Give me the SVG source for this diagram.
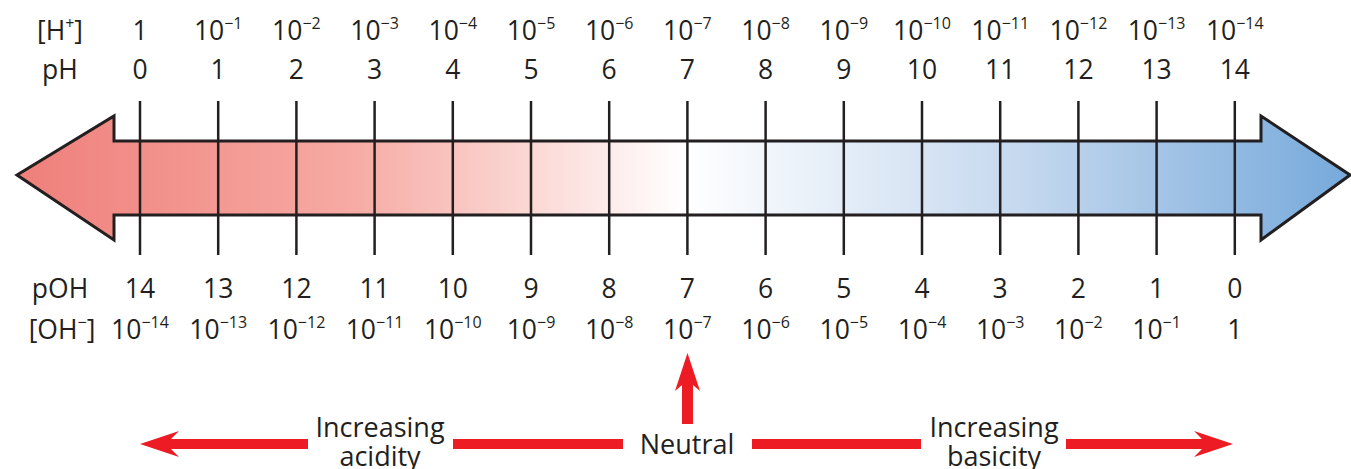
<svg xmlns="http://www.w3.org/2000/svg" width="1351" height="469" viewBox="0 0 1351 469">
<style>
text{font-family:"Open Sans","Noto Sans","Liberation Sans",sans-serif;fill:#231f20;text-anchor:middle}
.v{font-size:26.5px}
.s{font-size:16px}
.b{font-size:27px}
.tick{stroke:#231f20;stroke-width:2.5}
.red{fill:#ed1c24}
</style>
<defs>
<linearGradient id="g" gradientUnits="userSpaceOnUse" x1="17" y1="0" x2="1351" y2="0">
<stop offset="0" stop-color="#ef7f7b"/>
<stop offset="0.25" stop-color="#f6aaa3"/>
<stop offset="0.5015" stop-color="#ffffff"/>
<stop offset="0.75" stop-color="#c6d9ef"/>
<stop offset="1" stop-color="#76a9db"/>
</linearGradient>
</defs>
<g id="scale-arrow">
<polygon points="17,175 114,116 114,141 1261,141 1261,116 1350,175 1261,240 1261,215 114,215 114,240" fill="url(#g)" stroke="#231f20" stroke-width="3" stroke-linejoin="miter"/>
</g>
<g id="ticks">
<line class="tick" x1="140" y1="101" x2="140" y2="255"/>
<line class="tick" x1="218.2" y1="101" x2="218.2" y2="255"/>
<line class="tick" x1="296.4" y1="101" x2="296.4" y2="255"/>
<line class="tick" x1="374.6" y1="101" x2="374.6" y2="255"/>
<line class="tick" x1="452.8" y1="101" x2="452.8" y2="255"/>
<line class="tick" x1="531" y1="101" x2="531" y2="255"/>
<line class="tick" x1="609.2" y1="101" x2="609.2" y2="255"/>
<line class="tick" x1="687.4" y1="101" x2="687.4" y2="255"/>
<line class="tick" x1="765.6" y1="101" x2="765.6" y2="255"/>
<line class="tick" x1="843.8" y1="101" x2="843.8" y2="255"/>
<line class="tick" x1="922" y1="101" x2="922" y2="255"/>
<line class="tick" x1="1000.2" y1="101" x2="1000.2" y2="255"/>
<line class="tick" x1="1078.4" y1="101" x2="1078.4" y2="255"/>
<line class="tick" x1="1156.6" y1="101" x2="1156.6" y2="255"/>
<line class="tick" x1="1234.8" y1="101" x2="1234.8" y2="255"/>
</g>
<g id="row-labels">
<text class="v" x="60" y="40">[H<tspan class="s" dy="-11">+</tspan><tspan dy="11">]</tspan></text>
<text class="v" x="60" y="79">pH</text>
<text class="v" x="60" y="298">pOH</text>
<text class="v" x="62" y="339">[OH<tspan class="s" dy="-11">−</tspan><tspan dy="11">]</tspan></text>
</g>
<g id="h-row">
<text class="v" x="140" y="40">1</text>
<text class="v" x="218.2" y="40">10<tspan class="s" dy="-11">−1</tspan></text>
<text class="v" x="296.4" y="40">10<tspan class="s" dy="-11">−2</tspan></text>
<text class="v" x="374.6" y="40">10<tspan class="s" dy="-11">−3</tspan></text>
<text class="v" x="452.8" y="40">10<tspan class="s" dy="-11">−4</tspan></text>
<text class="v" x="531" y="40">10<tspan class="s" dy="-11">−5</tspan></text>
<text class="v" x="609.2" y="40">10<tspan class="s" dy="-11">−6</tspan></text>
<text class="v" x="687.4" y="40">10<tspan class="s" dy="-11">−7</tspan></text>
<text class="v" x="765.6" y="40">10<tspan class="s" dy="-11">−8</tspan></text>
<text class="v" x="843.8" y="40">10<tspan class="s" dy="-11">−9</tspan></text>
<text class="v" x="922" y="40">10<tspan class="s" dy="-11">−10</tspan></text>
<text class="v" x="1000.2" y="40">10<tspan class="s" dy="-11">−11</tspan></text>
<text class="v" x="1078.4" y="40">10<tspan class="s" dy="-11">−12</tspan></text>
<text class="v" x="1156.6" y="40">10<tspan class="s" dy="-11">−13</tspan></text>
<text class="v" x="1234.8" y="40">10<tspan class="s" dy="-11">−14</tspan></text>
</g>
<g id="ph-row">
<text class="v" x="140" y="79">0</text>
<text class="v" x="218.2" y="79">1</text>
<text class="v" x="296.4" y="79">2</text>
<text class="v" x="374.6" y="79">3</text>
<text class="v" x="452.8" y="79">4</text>
<text class="v" x="531" y="79">5</text>
<text class="v" x="609.2" y="79">6</text>
<text class="v" x="687.4" y="79">7</text>
<text class="v" x="765.6" y="79">8</text>
<text class="v" x="843.8" y="79">9</text>
<text class="v" x="922" y="79">10</text>
<text class="v" x="1000.2" y="79">11</text>
<text class="v" x="1078.4" y="79">12</text>
<text class="v" x="1156.6" y="79">13</text>
<text class="v" x="1234.8" y="79">14</text>
</g>
<g id="poh-row">
<text class="v" x="140" y="298">14</text>
<text class="v" x="218.2" y="298">13</text>
<text class="v" x="296.4" y="298">12</text>
<text class="v" x="374.6" y="298">11</text>
<text class="v" x="452.8" y="298">10</text>
<text class="v" x="531" y="298">9</text>
<text class="v" x="609.2" y="298">8</text>
<text class="v" x="687.4" y="298">7</text>
<text class="v" x="765.6" y="298">6</text>
<text class="v" x="843.8" y="298">5</text>
<text class="v" x="922" y="298">4</text>
<text class="v" x="1000.2" y="298">3</text>
<text class="v" x="1078.4" y="298">2</text>
<text class="v" x="1156.6" y="298">1</text>
<text class="v" x="1234.8" y="298">0</text>
</g>
<g id="oh-row">
<text class="v" x="140" y="339">10<tspan class="s" dy="-11">−14</tspan></text>
<text class="v" x="218.2" y="339">10<tspan class="s" dy="-11">−13</tspan></text>
<text class="v" x="296.4" y="339">10<tspan class="s" dy="-11">−12</tspan></text>
<text class="v" x="374.6" y="339">10<tspan class="s" dy="-11">−11</tspan></text>
<text class="v" x="452.8" y="339">10<tspan class="s" dy="-11">−10</tspan></text>
<text class="v" x="531" y="339">10<tspan class="s" dy="-11">−9</tspan></text>
<text class="v" x="609.2" y="339">10<tspan class="s" dy="-11">−8</tspan></text>
<text class="v" x="687.4" y="339">10<tspan class="s" dy="-11">−7</tspan></text>
<text class="v" x="765.6" y="339">10<tspan class="s" dy="-11">−6</tspan></text>
<text class="v" x="843.8" y="339">10<tspan class="s" dy="-11">−5</tspan></text>
<text class="v" x="922" y="339">10<tspan class="s" dy="-11">−4</tspan></text>
<text class="v" x="1000.2" y="339">10<tspan class="s" dy="-11">−3</tspan></text>
<text class="v" x="1078.4" y="339">10<tspan class="s" dy="-11">−2</tspan></text>
<text class="v" x="1156.6" y="339">10<tspan class="s" dy="-11">−1</tspan></text>
<text class="v" x="1234.8" y="339">1</text>
</g>
<g id="connectors">
<polygon class="red" points="140,444 179,431 171,439 308,439 308,449 171,449 179,457"/>
<rect class="red" x="453" y="439" width="170" height="10"/>
<rect class="red" x="752" y="439" width="169" height="10"/>
<polygon class="red" points="1233,444 1194,431 1202,439 1066,439 1066,449 1202,449 1194,457"/>
<polygon class="red" points="687.5,353 700,391 693,385 693,424 682,424 682,385 675,391"/>
</g>
<g id="label-acidity">
<text class="b" x="380" y="437">Increasing</text>
<text class="b" x="380" y="466">acidity</text>
</g>
<g id="label-neutral">
<text class="b" x="687" y="454">Neutral</text>
</g>
<g id="label-basicity">
<text class="b" x="994" y="437">Increasing</text>
<text class="b" x="994" y="466">basicity</text>
</g>
</svg>
